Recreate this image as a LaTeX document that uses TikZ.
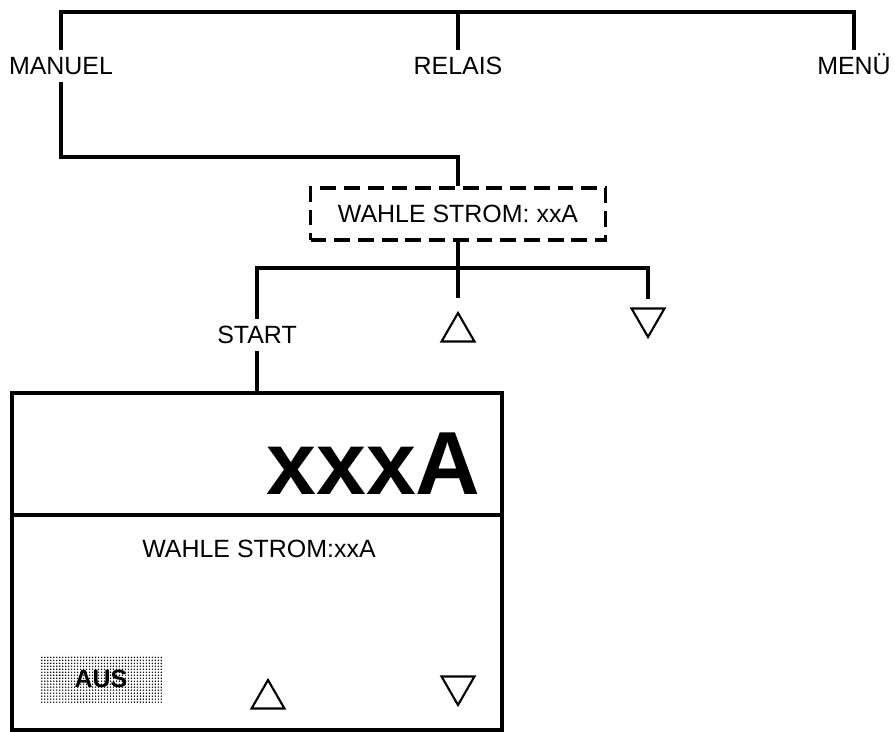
\documentclass[tikz,border=0pt]{standalone}
\usepackage{fontspec}
\setmainfont{Liberation Sans}
\usepackage{tikz}
\usetikzlibrary{shapes.geometric,patterns.meta,positioning}
\newcommand{\lblfont}{\fontsize{14.2}{17}\selectfont}
\newcommand{\bigfont}{\fontsize{51}{56}\selectfont\bfseries}
\tikzset{
  menulbl/.style={inner xsep=2pt,inner ysep=4pt,text height=10.2pt,text depth=0pt,font=\lblfont},
  selbox/.style={draw,line width=2.1pt,dash pattern=on 9pt off 4.5pt,minimum width=5.9cm,minimum height=1.05cm,font=\lblfont},
  dispbox/.style={draw,line width=2.2pt,minimum width=9.8cm,minimum height=6.74cm},
  keytri/.style={draw,line width=1.2pt,regular polygon,regular polygon sides=3,minimum size=0.76cm,inner sep=0pt,shape border rotate=#1},
  softkey/.style={pattern={Dots[distance=1.7pt,radius=0.45pt]},minimum width=2.44cm,minimum height=0.96cm,font=\lblfont\bfseries},
}

\begin{document}
\begin{tikzpicture}[x=0.02cm,y=-0.02cm,
    conn/.style={line width=2.2pt},
  ]
  \useasboundingbox (0,0) rectangle (895,732);

  % Hauptmenue
  \node[menulbl] (manuel) at (61,66) {MANUEL};
  \node[menulbl] (relais) at (458,66) {RELAIS};
  \node[menulbl] (menue) at (854,66) {MENÜ};
  \coordinate (top) at (458,12);
  \draw[conn] (manuel.north) |- (menue.north |- top) -- (menue.north);
  \draw[conn] (relais.north) -- (top);

  % Strom waehlen
  \node[selbox] (wahl) at (458,214) {WAHLE STROM: xxA};
  \coordinate (bend) at (458,157);
  \draw[conn] (manuel.south) |- (bend) -- (wahl.north);

  \node[menulbl] (start) at (257,335) {START};
  \node[keytri=0] (up) at (458,332) {};
  \node[keytri=180] (down) at (648,318) {};
  \coordinate (fork) at (458,268);
  \draw[conn,shorten >=7.4pt] (wahl.south) -- (up.north);
  \draw[conn,shorten >=4.8pt] (start.north) |- (fork) -| (down.north);

  % Anzeige
  \node[dispbox] (display) at (257,561.5) {};
  \draw[conn] (start.south) -- (display.north);
  \draw[conn] (display.west |- 0,515) -- (display.east |- 0,515);
  \node[anchor=base east,inner sep=0pt,font=\bigfont] (amps) at (481,495) {xxxA};
  \node[font=\lblfont,anchor=base,inner sep=0pt] (info) at (259,557) {WAHLE STROM:xxA};
  \node[softkey] (aus) at (101,679) {AUS};
  \node[keytri=0] (dup) at (268,699) {};
  \node[keytri=180] (ddown) at (458,686) {};
\end{tikzpicture}
\end{document}
